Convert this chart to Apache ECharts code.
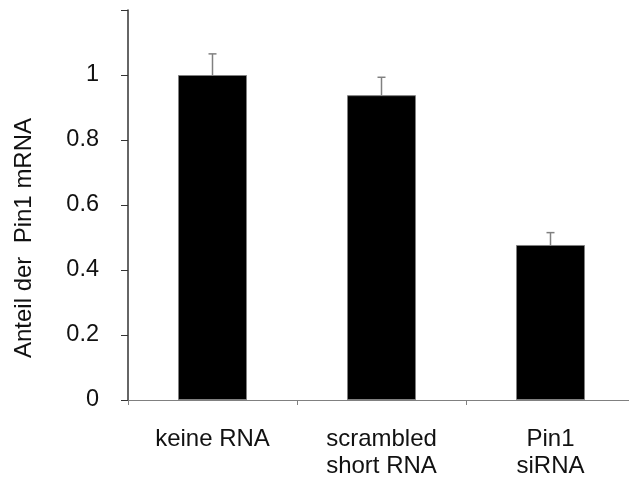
<!DOCTYPE html>
<html>
<head>
<meta charset="utf-8">
<script src="https://cdn.jsdelivr.net/npm/echarts@6/dist/echarts.min.js"></script>
<style>
  html, body { margin: 0; padding: 0; background: #fff; }
  #chart { width: 629px; height: 480px; }
</style>
</head>
<body>
<div id="chart"></div>
<script>
// Anteil der Pin1 mRNA
const categories = ['keine RNA', 'scrambled\nshort RNA', 'Pin1\nsiRNA'];
const means = [1.0, 0.938, 0.477];
const errUp = [0.065, 0.055, 0.038];
const yTicks = [0, 0.2, 0.4, 0.6, 0.8, 1];

const chart = echarts.init(document.getElementById('chart'));

const font = 'Liberation Sans, Arial, sans-serif';

chart.setOption({
  animation: false,
  grid: { left: 128, width: 507, top: 10, height: 390, outerBoundsMode: 'none' },
  xAxis: {
    type: 'category',
    data: categories,
    axisLine: { lineStyle: { color: '#808080', width: 1 } },
    axisTick: { show: true, length: 5, lineStyle: { color: '#808080' } },
    axisLabel: {
      color: '#111', fontFamily: font, fontSize: 24, lineHeight: 27, margin: 26
    }
  },
  yAxis: {
    type: 'value',
    min: 0,
    max: 1.2,
    interval: 0.2,
    splitLine: { show: false },
    axisLine: { show: true, lineStyle: { color: '#333', width: 1.5 } },
    axisTick: { show: true, length: 7, lineStyle: { color: '#333' } },
    axisLabel: {
      color: '#111', fontFamily: font, fontSize: 23.5, margin: 29,
      formatter: v => (yTicks.some(t => Math.abs(t - v) < 1e-6) ? String(+v.toFixed(1)) : '')
    }
  },
  graphic: [{
    type: 'text',
    x: 24, y: 238,
    rotation: Math.PI / 2,
    style: {
      text: 'Anteil der  Pin1 mRNA',
      fill: '#111',
      font: '24px ' + font,
      align: 'center',
      verticalAlign: 'middle'
    }
  }],
  series: [{
    type: 'bar',
    data: means,
    barWidth: 69,
    itemStyle: { color: '#000', borderColor: '#808080', borderWidth: 1 },
    z: 2
  }, {
    type: 'custom',
    data: means.map((m, i) => [i, m, m + errUp[i]]),
    z: 3,
    renderItem: (params, api) => {
      const base = api.coord([api.value(0), api.value(1)]);
      const top = api.coord([api.value(0), api.value(2)]);
      const half = 4;
      const style = { stroke: '#808080', lineWidth: 1.5 };
      return {
        type: 'group',
        children: [
          { type: 'line', shape: { x1: base[0], y1: base[1], x2: top[0], y2: top[1] }, style },
          { type: 'line', shape: { x1: top[0] - half, y1: top[1], x2: top[0] + half, y2: top[1] }, style }
        ]
      };
    }
  }]
});
</script>
</body>
</html>
